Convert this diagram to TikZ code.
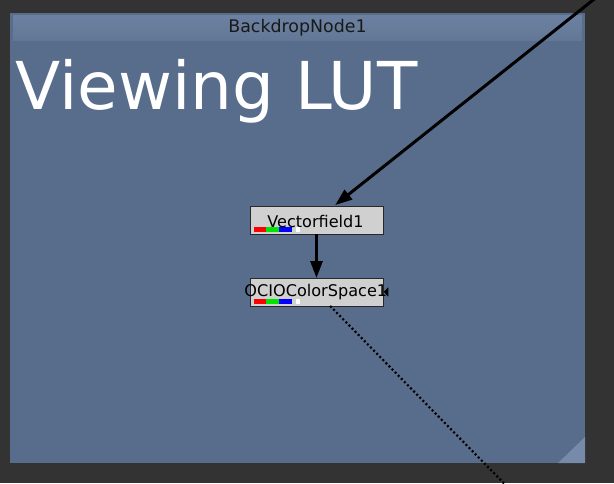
\documentclass[tikz,border=0pt]{standalone}
\usepackage{fontspec}
\setmainfont{DejaVu Sans}
\usetikzlibrary{arrows.meta}
\definecolor{bgdark}{RGB}{51,51,51}
\definecolor{backdrop}{RGB}{88,108,139}
\definecolor{titlebar}{RGB}{108,129,162}
\definecolor{cornerc}{RGB}{118,138,170}
\definecolor{nodefill}{RGB}{208,208,208}
\definecolor{nodeline}{RGB}{40,40,40}
\tikzset{
  nodebox/.style={draw=nodeline, line width=1pt, fill=nodefill, minimum width=133pt, minimum height=28pt, inner sep=0pt, outer sep=0pt},
  nodelabel/.style={inner sep=0pt, font=\fontsize{16.1}{18}\selectfont, text=black},
  link/.style={line width=3pt, -{Triangle[length=17pt,width=12pt]}},
  dotlink/.style={line width=2.2pt, dash pattern=on 2pt off 2.4pt},
}
\begin{document}
\begin{tikzpicture}[x=1pt,y=-1pt]
\useasboundingbox (0,0) rectangle (614,483);
\fill[bgdark] (0,0) rectangle (614,483);
% backdrop
\fill[backdrop] (10,13) rectangle (585,463);
\shade[top color=titlebar!100!white, bottom color=titlebar!92!black] (13,15) rectangle (582,40);
\node[font=\fontsize{17.4}{19}\selectfont, text=black!90] (bdtitle) at (297.5,28) {BackdropNode1};
\node[anchor=base west, inner sep=0pt, font=\fontsize{66}{70}\selectfont, text=white] (vlut) at (15.3,109) {Viewing LUT};
\fill[cornerc] (558,463) -- (585,437) -- (585,463) -- cycle;
% nodes
\node[nodebox] (vf) at (316.5,220) {};
\node[nodebox] (ocio) at (316.5,292) {};
\foreach \n/\y in {vf/227.3, ocio/299.3}{
  \fill[red] (254,\y) rectangle (266,\y+4.4);
  \fill[green!90!black] (266,\y) rectangle (279,\y+4.4);
  \fill[blue] (279,\y) rectangle (291.7,\y+4.4);
  \fill[white] (296,\y) rectangle (300,\y+4.4);
}
\node[nodelabel] (vft) at (315.5,221) {Vectorfield1};
\node[nodelabel] (ociot) at (315.8,292.5) {OCIOColorSpace1};
\fill[black] (383.8,291.9) -- (388.3,287.2) -- (388.3,296.7) -- cycle;
% connectors
\coordinate (far) at (605.6,-10);
\coordinate (dotend) at (512.5,492);
\draw[link, shorten >=1.5pt] (far) -- (vf);
\draw[link] (vf) -- (ocio);
\draw[dotlink] (ocio) -- (dotend);
\end{tikzpicture}
\end{document}
